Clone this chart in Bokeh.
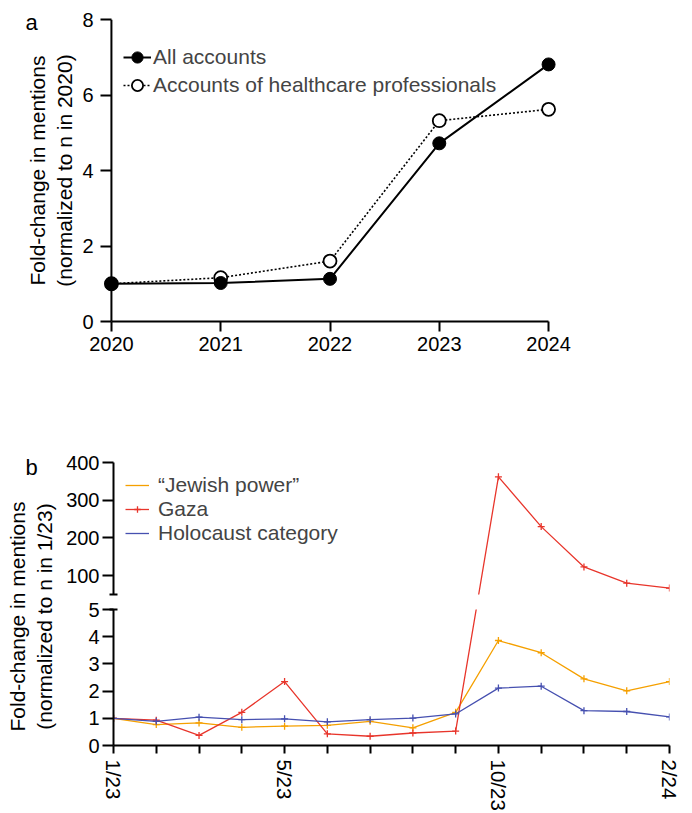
import math
from bokeh.plotting import figure
from bokeh.models import Range1d, FixedTicker, LinearAxis, Legend, LegendItem, Label, Span
from bokeh.layouts import column, row
from bokeh.embed import file_html
from bokeh.resources import INLINE

FONT = "Liberation Sans"

# ---------------- data: panel a ----------------
years = [2020, 2021, 2022, 2023, 2024]
all_accounts = [1.0, 1.02, 1.13, 4.72, 6.81]
healthcare = [1.0, 1.16, 1.60, 5.32, 5.62]
a_yticks = [0, 2, 4, 6, 8]

# ---------------- data: panel b ----------------
months = list(range(14))
month_labels = ["1/23", "", "", "", "5/23", "", "", "", "", "10/23", "", "", "", "2/24"]
jewish_power = [1.0, 0.77, 0.83, 0.67, 0.71, 0.74, 0.89, 0.65, 1.22, 3.86, 3.41, 2.45, 2.01, 2.35]
gaza = [1.0, 0.93, 0.37, 1.22, 2.35, 0.43, 0.34, 0.46, 0.53, 362, 230, 123, 80, 67]
holocaust = [1.0, 0.89, 1.04, 0.95, 0.98, 0.87, 0.95, 1.01, 1.16, 2.11, 2.18, 1.28, 1.25, 1.05]
b_upper_ticks = [100, 200, 300, 400]
b_lower_ticks = [0, 1, 2, 3, 4, 5]

ORANGE = "#F5A000"
RED = "#E8352B"
BLUE = "#4650B0"


def style_axis(ax, size="20px", tick_out=10, standoff=6):
    ax.axis_line_width = 2
    ax.axis_line_color = "black"
    ax.major_tick_line_width = 2
    ax.major_tick_line_color = "black"
    ax.major_tick_out = tick_out
    ax.major_tick_in = 0
    ax.minor_tick_out = 0
    ax.minor_tick_in = 0
    ax.major_label_text_font = FONT
    ax.major_label_text_font_size = size
    ax.major_label_text_color = "black"
    ax.major_label_standoff = standoff


def bare_figure(**kw):
    p = figure(output_backend="svg", toolbar_location=None,
               x_axis_location=None, y_axis_location=None, **kw)
    p.outline_line_color = None
    p.grid.visible = False
    return p


def side_label(p, x, y, text, size="21px", angle=0.0, baseline="middle"):
    p.add_layout(Label(x=x, y=y, text=text, angle=angle, text_font=FONT,
                       text_font_size=size, text_align="center", text_baseline=baseline,
                       text_color="black"))


# ================= panel a =================
la = bare_figure(width=78, height=440, x_range=Range1d(0, 78), y_range=Range1d(0, 440),
                 min_border_left=0, min_border_right=0, min_border_top=0, min_border_bottom=0)
side_label(la, 31, 418, "a", size="22px", baseline="alphabetic")
side_label(la, 37, 270, "Fold-change in mentions", angle=math.pi / 2)
side_label(la, 63.5, 270, "(normalized to n in 2020)", angle=math.pi / 2)

pa = bare_figure(width=614, height=440,
                 x_range=Range1d(2019.9, 2024.1), y_range=Range1d(0, 8),
                 min_border_left=22, min_border_right=133,
                 min_border_top=19, min_border_bottom=119)

xa = LinearAxis(ticker=FixedTicker(ticks=years), bounds=(years[0], years[-1]))
style_axis(xa, tick_out=10, standoff=5)
pa.add_layout(xa, "below")

ya = LinearAxis(ticker=FixedTicker(ticks=a_yticks))
style_axis(ya, tick_out=0, standoff=7)
ya.major_tick_in = 11
ya.axis_line_color = None
pa.add_layout(ya, "left")
pa.add_layout(Span(location=years[0], dimension="height", line_color="black", line_width=2))

r_hc_line = pa.line(years, healthcare, line_color="black", line_width=1.6, line_dash="2 2")
r_all_line = pa.line(years, all_accounts, line_color="black", line_width=2)
r_hc_pts = pa.scatter(years, healthcare, marker="circle", size=13,
                      fill_color="white", line_color="black", line_width=1.8)
r_all_pts = pa.scatter(years, all_accounts, marker="circle", size=13,
                       fill_color="black", line_color="black")

leg_a = Legend(items=[
    LegendItem(label="All accounts", renderers=[r_all_line, r_all_pts]),
    LegendItem(label="Accounts of healthcare professionals", renderers=[r_hc_line, r_hc_pts]),
], location=(23, 222))
leg_a.border_line_color = None
leg_a.background_fill_alpha = 0
leg_a.padding = 0
leg_a.margin = 0
leg_a.spacing = -2
leg_a.glyph_width = 28
leg_a.glyph_height = 28
leg_a.label_height = 28
leg_a.label_standoff = 2
leg_a.label_text_font = FONT
leg_a.label_text_font_size = "21px"
pa.add_layout(leg_a)

# ================= panel b =================
HU, HL = 132, 137                   # upper / lower frame heights (px)
BU, TL = 3, 12                      # upper bottom border, lower top border
GAP = BU + TL
U0, U1 = 50, 400                    # upper segment range
L0, L1 = 0, 5                       # lower segment range


def to_lower(v):
    if v <= L1:
        return v
    px = HL + GAP + (v - U0) / (U1 - U0) * HU
    return L0 + px / HL * (L1 - L0)


def to_upper(v):
    if v >= U0:
        return v
    d = (HL - (v - L0) / (L1 - L0) * HL) + GAP
    return U0 - d / HU * (U1 - U0)


WL = 60
WB = 692 - WL
HUF = 22 + HU + BU
HLF = 813 - 440 - HUF

lb = bare_figure(width=WL, height=HUF + HLF, x_range=Range1d(0, WL),
                 y_range=Range1d(0, HUF + HLF),
                 min_border_left=0, min_border_right=0, min_border_top=0, min_border_bottom=0)
side_label(lb, 31, 346, "b", size="22px", baseline="alphabetic")
side_label(lb, 16.7, 197, "Fold-change in mentions", angle=math.pi / 2)
side_label(lb, 44, 197, "(normalized to n in 1/23)", angle=math.pi / 2)

pu = bare_figure(width=WB, height=HUF, x_range=Range1d(months[0], months[-1]),
                 y_range=Range1d(U0, U1),
                 min_border_left=113 - WL, min_border_right=23,
                 min_border_top=22, min_border_bottom=BU)
yu = LinearAxis(ticker=FixedTicker(ticks=b_upper_ticks, minor_ticks=[U0]))
style_axis(yu, tick_out=11, standoff=3)
yu.minor_tick_in = 4
yu.minor_tick_out = 4
yu.minor_tick_line_width = 2
yu.minor_tick_line_color = "black"
pu.add_layout(yu, "left")

pb = bare_figure(width=WB, height=HLF, x_range=Range1d(months[0], months[-1]),
                 y_range=Range1d(L0, L1),
                 min_border_left=113 - WL, min_border_right=23,
                 min_border_top=TL, min_border_bottom=HLF - TL - HL)
yl = LinearAxis(ticker=FixedTicker(ticks=b_lower_ticks, minor_ticks=[L1]))
style_axis(yl, tick_out=11, standoff=3)
yl.minor_tick_in = 4
yl.minor_tick_out = 4
yl.minor_tick_line_width = 2
yl.minor_tick_line_color = "black"
pb.add_layout(yl, "left")
xl = LinearAxis(ticker=FixedTicker(ticks=months),
                major_label_overrides={i: lab for i, lab in enumerate(month_labels)})
style_axis(xl, size="20.5px", tick_out=8, standoff=6)
xl.major_label_orientation = "vertical"
pb.add_layout(xl, "below")

series = [("\u201cJewish power\u201d", jewish_power, ORANGE),
          ("Gaza", gaza, RED),
          ("Holocaust category", holocaust, BLUE)]

legend_items = []
for name, vals, col in series:
    pb.line(months, [to_lower(v) for v in vals], line_color=col, line_width=1.3)
    lx = [m for m, v in zip(months, vals) if v <= L1]
    ly = [v for v in vals if v <= L1]
    pb.scatter(lx, ly, marker="cross", size=7, line_color=col, line_width=1.3)
    ru_line = pu.line(months, [to_upper(v) for v in vals], line_color=col, line_width=1.3)
    ux = [m for m, v in zip(months, vals) if v >= U0]
    uy = [v for v in vals if v >= U0]
    ru_pts = pu.scatter(ux, uy, marker="cross", size=7, line_color=col, line_width=1.3)
    legend_items.append(LegendItem(label=name, renderers=[ru_line, ru_pts]))

leg_b = Legend(items=legend_items, location=(12, 49))
leg_b.border_line_color = None
leg_b.background_fill_alpha = 0
leg_b.padding = 0
leg_b.margin = 0
leg_b.spacing = 0
leg_b.glyph_width = 24
leg_b.glyph_height = 16
leg_b.label_height = 24
leg_b.label_standoff = 9
leg_b.label_text_font = FONT
leg_b.label_text_font_size = "21px"
pu.add_layout(leg_b)

layout = column(row(la, column(pa)), row(lb, column(pu, pb)))

open("out.html", "w").write(file_html(layout, INLINE))
